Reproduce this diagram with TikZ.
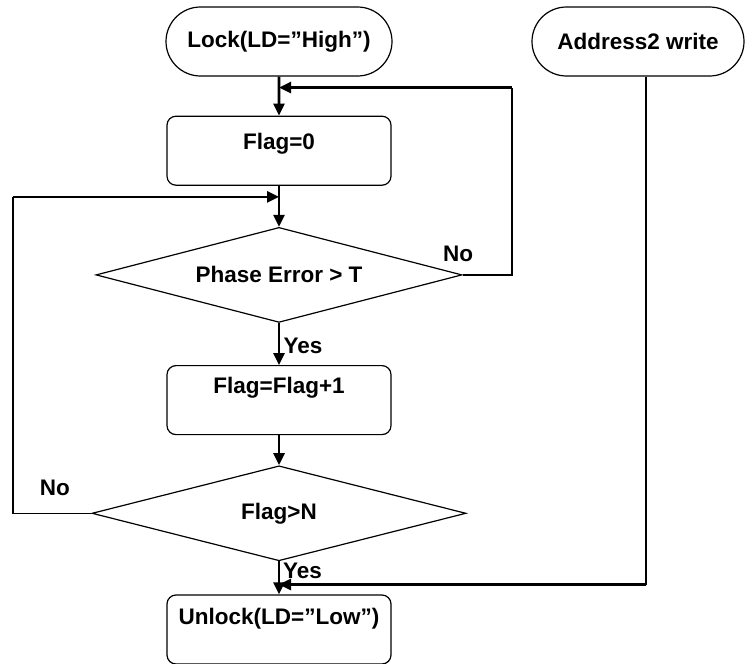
\documentclass[tikz,border=0pt]{standalone}
\usepackage{fontspec}
\setmainfont{Liberation Sans}
\usetikzlibrary{
  arrows.meta,
  calc,
  positioning,
  shapes,
}
\tikzset{
  >={Triangle[length=12pt,width=11pt]},
}

\begin{document}
\begin{tikzpicture}[x=1pt, y=1pt,
    every node/.style={font=\fontsize{22.5}{26}\selectfont\bfseries},
    term/.style={draw, rounded rectangle, line width=1.2pt, minimum height=69pt, inner sep=0pt},
    proc/.style={draw, rounded corners=9pt, line width=1.2pt, minimum width=224pt, minimum height=69pt,
      text height=12pt, text depth=14pt},
    decide/.style={draw, diamond, aspect=3.85, line width=1.2pt, minimum height=95pt, inner sep=0pt},
    flow/.style={->, line width=2.6pt},
    wire/.style={line width=1.4pt},
    node distance=39pt]
      \useasboundingbox (0,0) rectangle (747,-664);
      \node [term, minimum width=226pt] (lock) at (279,-41.5) {Lock(LD=”High”)};
      \node [term, minimum width=212pt] (addr) at (638,-41.5) {Address2 write};
      \node [proc, below=of lock] (flag0) {Flag=0};
      \node [decide, minimum width=366pt, below=41pt of flag0] (phase) {Phase Error > T};
      \node [proc, text depth=25pt, below=42pt of phase] (inc) {Flag=Flag+1};
      \node [decide, minimum width=374pt, below=30pt of inc] (flagn) {Flag>N};
      \node [proc, text depth=23pt, below=33pt of flagn] (unlock) {Unlock(LD=”Low”)};
      % joins on the main line
      \coordinate (j1) at ($(lock.south)!0.28!(flag0.north)$);
      \coordinate (j2) at ($(flag0.south)!0.27!(phase.north)$);
      \coordinate (j3) at ($(flagn.south)!0.7!(unlock.north)$);
      \coordinate (r1) at (512,0 |- j1);
      \coordinate (l2) at (13,0 |- j2);
      \coordinate (r3) at (646,0 |- j3);
      \draw [flow] (lock) -- (flag0);
      \draw [flow] (flag0) -- (phase);
      \draw [flow] (phase) -- node [right, yshift=-2pt] {Yes} (inc);
      \draw [flow] (inc) -- (flagn);
      \draw [flow] (flagn) -- (unlock);
      \node [right=2pt of j3, yshift=14pt, inner sep=2pt] (yes2) {Yes};
      % loops back
      \draw [wire] (phase.east) -| (r1);
      \draw [flow] (r1) -- (j1);
      \node [above left=10pt and -14pt of phase.east] (no1) {No};
      \draw [wire] (flagn.west) -| (l2);
      \draw [flow] (l2) -- (j2);
      \node [above left=14pt and 18pt of flagn.west] (no2) {No};
      \draw [wire] (addr.south -| r3) -- (r3);
      \draw [flow] (r3) -- (j3);
    \end{tikzpicture}
\end{document}
